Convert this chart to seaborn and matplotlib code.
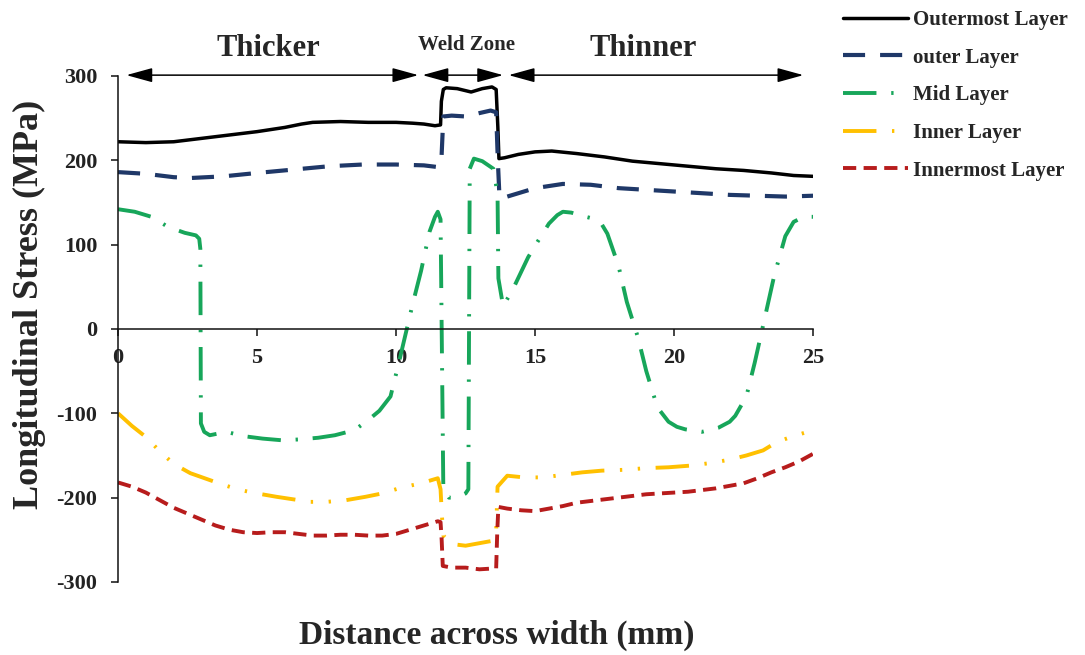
import matplotlib
matplotlib.use("Agg")
import matplotlib.pyplot as plt
import seaborn as sns

# ---- data: longitudinal stress (MPa) vs distance across width (mm) ----
outermost_x = [0, 1, 2, 3, 4, 5, 6, 6.6, 7, 8, 9, 10, 10.6, 11.0, 11.4, 11.6, 11.63, 11.7,
               11.8, 12.2, 12.7, 13.1, 13.45, 13.6, 13.66, 13.7, 13.9, 14.4, 15.0, 15.6,
               16.5, 17.5, 18.5, 19.5, 20.5, 21.5, 22.5, 23.5, 24.3, 25]
outermost_y = [222, 221, 222, 226, 230, 234, 239, 243, 245, 246, 245, 245, 244, 243, 241,
               242, 270, 284, 286, 285, 281, 285, 287, 284, 240, 202, 203, 207, 210, 211,
               208, 204, 199, 196, 193, 190, 188, 185, 182, 181]

outer_x = [0, 1, 2, 2.6, 3.8, 5, 6.3, 7.6, 8.8, 10, 11, 11.5, 11.63, 11.7, 12.0, 12.5,
           13.0, 13.4, 13.6, 13.66, 13.72, 14.0, 14.5, 15.0, 16.0, 17.0, 18.0, 19.0, 20.0,
           21.0, 22.0, 23.0, 24.0, 25.0]
outer_y = [186, 184, 180, 179, 181, 185, 189, 193, 195, 195, 194, 192, 200, 252, 253, 252,
           256, 259, 257, 200, 156, 157, 162, 167, 172, 171, 167, 165, 163, 161, 159, 158,
           157, 158]

mid_x = [0, 0.6, 1.2, 1.8, 2.4, 2.8, 2.92, 2.96, 2.98, 3.1, 3.3, 3.9, 4.5, 5.2, 5.9, 6.5,
         7.2, 7.8, 8.5, 9.0, 9.4, 9.8, 10.1, 10.6, 10.9, 11.2, 11.4, 11.5, 11.6, 11.7, 11.9,
         12.2, 12.5, 12.6, 12.65, 12.8, 13.1, 13.5, 13.65, 13.68, 13.85, 14.2, 14.75, 15.1,
         15.5, 15.8, 16.0, 16.3, 16.7, 17.2, 17.4, 17.6, 18.0, 18.3, 18.7, 19.0, 19.4, 19.8,
         20.1, 20.4, 21.0, 21.6, 22.0, 22.2, 22.6, 22.9, 23.2, 23.6, 24.0, 24.3, 24.6, 24.8,
         25]
mid_y = [142, 139, 133, 121, 114, 111, 107, 95, -112, -122, -126, -122, -127, -130, -132,
         -131, -129, -126, -120, -108, -97, -80, -40, 30, 69, 115, 133, 139, 130, -190,
         -200, -200, -195, -190, 190, 202, 199, 190, 160, 60, 27, 47, 85, 104, 125, 135,
         139, 138, 134, 130, 124, 113, 75, 32, -10, -50, -93, -110, -116, -119, -122, -117,
         -110, -103, -80, -40, 4, 63, 110, 127, 132, 133, 133]

inner_x = [0, 0.5, 1.0, 1.5, 2.0, 2.6, 3.2, 3.8, 4.4, 5.0, 5.7, 6.3, 6.9, 7.5, 8.2, 8.9,
           9.5, 10.2, 10.9, 11.5, 11.6, 11.65, 11.7, 12.0, 12.5, 13.0, 13.5, 13.6, 13.65,
           14.0, 14.6, 15.3, 16.0, 16.7, 17.4, 18.2, 19.0, 19.8, 20.6, 21.3, 22.0, 22.6,
           23.2, 23.7, 24.3, 25]
inner_y = [-100, -115, -128, -145, -160, -171, -178, -185, -191, -195, -199, -202, -205,
           -205, -203, -199, -195, -188, -183, -177, -190, -222, -245, -255, -257, -254,
           -251, -240, -187, -174, -176, -176, -173, -170, -168, -167, -165, -164, -162,
           -159, -155, -150, -144, -134, -127, -120]

innermost_x = [0, 0.5, 1.0, 1.5, 2.0, 2.5, 3.0, 3.5, 4.0, 4.5, 5.0, 5.5, 6.0, 6.5, 7.0,
               7.5, 8.0, 8.5, 9.0, 9.5, 10.0, 10.5, 11.0, 11.5, 11.6, 11.64, 11.68, 12.0,
               12.5, 13.0, 13.5, 13.6, 13.64, 13.68, 14.0, 14.5, 15.0, 15.5, 16.0, 16.5,
               17.0, 17.5, 18.0, 18.5, 19.0, 19.5, 20.0, 20.5, 21.0, 21.5, 22.0, 22.5, 23.0,
               23.5, 24.0, 24.5, 25.0]
innermost_y = [-182, -187, -194, -203, -212, -219, -226, -233, -238, -241, -242, -241, -241,
               -243, -245, -245, -244, -244, -245, -245, -243, -238, -233, -228, -229, -250,
               -281, -283, -283, -285, -284, -284, -240, -211, -213, -215, -216, -213, -210,
               -206, -204, -202, -200, -198, -196, -195, -194, -193, -191, -189, -186, -183,
               -177, -170, -164, -157, -148]

series_names = ["Outermost Layer", "outer Layer", "Mid Layer", "Inner Layer", "Innermost Layer"]
x_ticks = [0, 5, 10, 15, 20, 25]
y_ticks = [-300, -200, -100, 0, 100, 200, 300]

zone_labels = ["Thicker", "Weld Zone", "Thinner"]
zone_spans = [(0.3, 10.8), (10.95, 13.85), (14.05, 24.65)]
zone_label_x = [5.4, 12.55, 18.9]

# ---- styling ----
sns.set_style("ticks")
plt.rcParams["font.family"] = ["Liberation Serif", "DejaVu Serif"]
plt.rcParams["font.weight"] = "bold"

fig = plt.figure(figsize=(10.85, 6.55), dpi=100)
ax = fig.add_axes([0.1088, 0.1115, 0.6406, 0.7725])

styles = [
    dict(color="#000000", lw=2.5, dashes=None),
    dict(color="#1F3868", lw=3.0, dashes=(5.3, 3.6)),
    dict(color="#17A65A", lw=2.8, dashes=(8.6, 3.8, 0.6, 3.8)),
    dict(color="#FFC000", lw=2.8, dashes=(8.6, 4.0, 0.6, 4.0, 0.6, 4.0)),
    dict(color="#B71C1C", lw=2.8, dashes=(3.4, 1.9)),
]
all_x = [outermost_x, outer_x, mid_x, inner_x, innermost_x]
all_y = [outermost_y, outer_y, mid_y, inner_y, innermost_y]

for xs, ys, name, st in zip(all_x, all_y, series_names, styles):
    sns.lineplot(x=xs, y=ys, ax=ax, sort=False, estimator=None,
                 color=st["color"], lw=st["lw"], label=name)
    line = ax.lines[-1]
    if st["dashes"] is not None:
        line.set_dashes(st["dashes"])
    line.set_solid_joinstyle("round")
    line.set_dash_joinstyle("round")

ax.set_xlim(0, 25)
ax.set_ylim(-300, 300)
ax.set_xticks(x_ticks)
ax.set_yticks(y_ticks)
ax.set_xticklabels([str(v) for v in x_ticks])
ax.set_yticklabels([str(v) for v in y_ticks])

for side in ("top", "right"):
    ax.spines[side].set_visible(False)
ax.spines["bottom"].set_position(("data", 0))
for side in ("left", "bottom"):
    ax.spines[side].set_linewidth(1.1)
    ax.spines[side].set_color("#111111")

ax.tick_params(axis="both", direction="out", length=5, width=1.1, color="#111111",
               labelsize=16)
ax.tick_params(axis="y", pad=10)
ax.tick_params(axis="x", pad=9)
for lab in ax.get_xticklabels() + ax.get_yticklabels():
    lab.set_fontweight("bold")
    lab.set_color("#222222")

# zone arrows and labels above the plot
for (x0, x1), lx, txt in zip(zone_spans, zone_label_x, zone_labels):
    ax.annotate("", xy=(x1, 301), xytext=(x0, 301), annotation_clip=False,
                arrowprops=dict(arrowstyle="<|-|>,head_length=0.8,head_width=0.22",
                                mutation_scale=20, color="black", lw=1.1,
                                shrinkA=0, shrinkB=0))
    if txt == "Weld Zone":
        ax.text(lx, 337, txt, ha="center", va="center", fontweight="bold",
                fontsize=15, clip_on=False)
    else:
        ax.text(lx, 332, txt, ha="center", va="center", fontweight="bold",
                fontsize=22, clip_on=False)

# axis titles
fig.text(0.458, 0.03, "Distance across width (mm)", ha="center", va="center",
         fontsize=24, fontweight="bold")
fig.text(0.027, 0.535, "Longitudinal Stress (MPa)", ha="center", va="center",
         rotation=90, fontsize=26, fontweight="bold")

handles, labels = ax.get_legend_handles_labels()
ax.legend_ = None
fig.legend(handles, labels, loc="upper left", bbox_to_anchor=(0.777, 0.985),
           frameon=False, handlelength=3.1, handletextpad=0.25,
           labelspacing=0.85, borderpad=0, borderaxespad=0,
           prop=dict(weight="bold", size=15))

fig.savefig("out.png", dpi=100)
